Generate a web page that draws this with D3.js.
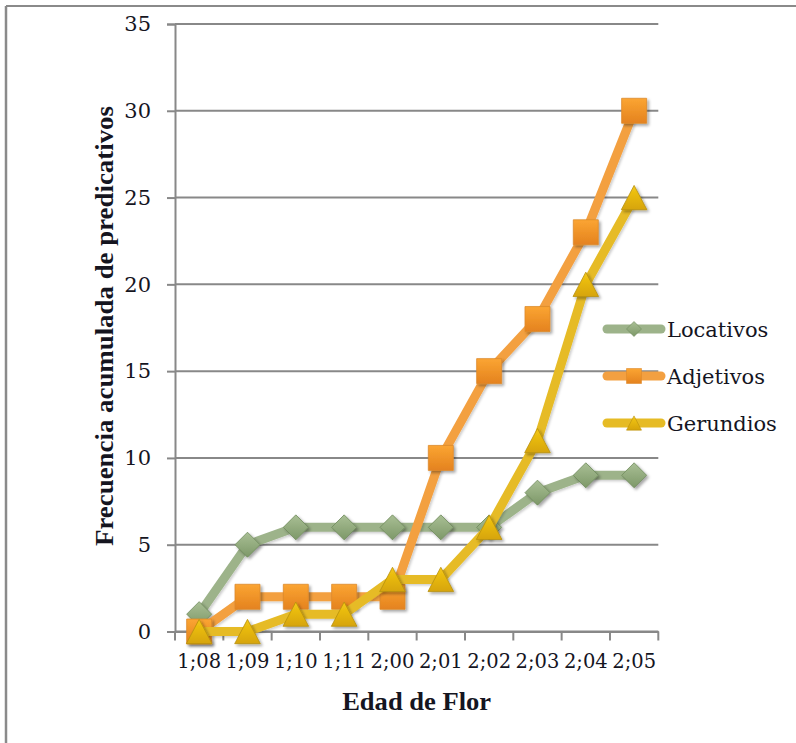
<!DOCTYPE html>
<html>
<head>
<meta charset="utf-8">
<script src="https://cdn.jsdelivr.net/npm/d3@7/dist/d3.min.js"></script>
<style>
  html, body { margin: 0; padding: 0; background: #fff; }
  svg { display: block; }
  text { fill: #15151f; }
  .bold { font-family: "Liberation Serif", "DejaVu Serif", serif; }
  .reg { font-family: "DejaVu Serif", serif; }
</style>
</head>
<body>
<svg id="chart" width="796" height="743"></svg>
<script>
// ---- data ----
const categories = ["1;08", "1;09", "1;10", "1;11", "2;00", "2;01", "2;02", "2;03", "2;04", "2;05"];
const locativos = [1, 5, 6, 6, 6, 6, 6, 8, 9, 9];
const adjetivos = [0, 2, 2, 2, 2, 10, 15, 18, 23, 30];
const gerundios = [0, 0, 1, 1, 3, 3, 6, 11, 20, 25];
const seriesNames = ["Locativos", "Adjetivos", "Gerundios"];
const yTicks = [0, 5, 10, 15, 20, 25, 30, 35];
const xTitle = "Edad de Flor";
const yTitle = "Frecuencia acumulada de predicativos";

const series = [
  { name: seriesNames[0], values: locativos, shape: "diamond", line: "#9db38a", top: "#a9bf95", bottom: "#7d9868", stroke: "#6f8a5c" },
  { name: seriesNames[1], values: adjetivos, shape: "square", line: "#f3a041", top: "#fba532", bottom: "#e4821f", stroke: "#dd8a2c" },
  { name: seriesNames[2], values: gerundios, shape: "triangle", line: "#e6bb25", top: "#f4c814", bottom: "#d6a40a", stroke: "#b8900c" }
];

const svg = d3.select("#chart");
const defs = svg.append("defs");

// drop shadow
const f = defs.append("filter").attr("id", "shadow").attr("x", "-50%").attr("y", "-50%").attr("width", "200%").attr("height", "200%");
f.append("feDropShadow").attr("dx", 2).attr("dy", 2).attr("stdDeviation", 1.6).attr("flood-color", "#000").attr("flood-opacity", 0.35);
const fl = defs.append("filter").attr("id", "lshadow").attr("x", "-10%").attr("y", "-10%").attr("width", "120%").attr("height", "120%");
fl.append("feDropShadow").attr("dx", 1.5).attr("dy", 1.5).attr("stdDeviation", 1.2).attr("flood-color", "#000").attr("flood-opacity", 0.2);

series.forEach((s, i) => {
  const g = defs.append("linearGradient").attr("id", "grad" + i).attr("x1", 0).attr("y1", 0).attr("x2", 0).attr("y2", 1);
  g.append("stop").attr("offset", "0%").attr("stop-color", s.top);
  g.append("stop").attr("offset", "100%").attr("stop-color", s.bottom);
});

// frame
svg.append("line").attr("x1", 6).attr("y1", 6).attr("x2", 796).attr("y2", 6).attr("stroke", "#8a8a8a").attr("stroke-width", 2);
svg.append("line").attr("x1", 6).attr("y1", 6).attr("x2", 6).attr("y2", 743).attr("stroke", "#8a8a8a").attr("stroke-width", 2.5);

// scales
const plotLeft = 175, plotRight = 658.3, plotTop = 24, plotBottom = 631.5;
const x = d3.scaleBand().domain(categories).range([plotLeft, plotRight]).padding(0);
const y = d3.scaleLinear().domain([0, 35]).range([plotBottom, plotTop]);

const gridColor = "#888888";

// gridlines
svg.append("g").selectAll("line").data(yTicks).join("line")
  .attr("x1", plotLeft).attr("x2", plotRight)
  .attr("y1", d => y(d)).attr("y2", d => y(d))
  .attr("stroke", gridColor).attr("stroke-width", 2);

// y axis
const yAxis = d3.axisLeft(y).tickValues(yTicks).tickSize(8).tickPadding(16);
const yg = svg.append("g").attr("transform", `translate(${plotLeft},0)`).call(yAxis).attr("font-family", null);
yg.select(".domain").attr("stroke", gridColor).attr("stroke-width", 2);
yg.selectAll(".tick line").attr("stroke", gridColor).attr("stroke-width", 2);
yg.selectAll(".tick text").attr("class", "reg").attr("font-size", 21).attr("fill", "#15151f");

// x axis
const xAxis = d3.axisBottom(x).tickSize(0).tickPadding(23);
const xg = svg.append("g").attr("transform", `translate(0,${plotBottom})`).call(xAxis).attr("font-family", null);
xg.select(".domain").attr("stroke", gridColor).attr("stroke-width", 2);
xg.selectAll(".tick text").attr("class", "reg").attr("font-size", 19.5).attr("fill", "#15151f");
// boundary ticks
const bounds = categories.map(c => x(c)).concat([x(categories[categories.length - 1]) + x.bandwidth()]);
svg.append("g").selectAll("line").data(bounds).join("line")
  .attr("x1", d => d).attr("x2", d => d)
  .attr("y1", plotBottom).attr("y2", plotBottom + 9)
  .attr("stroke", gridColor).attr("stroke-width", 2);

// titles
svg.append("text").attr("class", "bold").attr("x", (plotLeft + plotRight) / 2).attr("y", 710)
  .attr("text-anchor", "middle").attr("font-size", 26).attr("font-weight", "bold")
  .attr("textLength", 149).attr("lengthAdjust", "spacingAndGlyphs").text(xTitle);
svg.append("text").attr("class", "bold").attr("transform", "translate(113,326) rotate(-90)")
  .attr("text-anchor", "middle").attr("font-size", 26).attr("font-weight", "bold")
  .attr("textLength", 440).attr("lengthAdjust", "spacingAndGlyphs").text(yTitle);

// marker shapes
function shapePath(shape, r) {
  if (shape === "diamond") return `M0,${-r}L${r},0L0,${r}L${-r},0Z`;
  if (shape === "square") return `M${-r},${-r}H${r}V${r}H${-r}Z`;
  const h = r * 1.9;
  return `M0,${-h / 2}L${r},${h / 2}L${-r},${h / 2}Z`;
}
const markerR = { diamond: 12.5, square: 12.5, triangle: 12.8 };

const line = d3.line().x((d, i) => x(categories[i]) + x.bandwidth() / 2).y(d => y(d));

series.forEach((s, si) => {
  const g = svg.append("g");
  g.append("path").datum(s.values).attr("d", line)
    .attr("fill", "none").attr("stroke", s.line).attr("stroke-width", 9)
    .attr("stroke-linejoin", "round").attr("stroke-linecap", "round")
    .attr("filter", "url(#lshadow)");
  g.selectAll("path.mk").data(s.values).join("path").attr("class", "mk")
    .attr("transform", (d, i) => `translate(${x(categories[i]) + x.bandwidth() / 2},${y(d)})`)
    .attr("d", shapePath(s.shape, markerR[s.shape]))
    .attr("fill", `url(#grad${si})`).attr("stroke", s.stroke).attr("stroke-width", 0.8)
    .attr("filter", "url(#shadow)");
});

// legend
const legendY = [329, 376, 423];
series.forEach((s, si) => {
  const g = svg.append("g").attr("transform", `translate(0,${legendY[si]})`);
  g.append("line").attr("x1", 607).attr("x2", 661).attr("y1", 0).attr("y2", 0)
    .attr("stroke", s.line).attr("stroke-width", 9).attr("stroke-linecap", "round");
  g.append("path").attr("transform", "translate(634,0)")
    .attr("d", shapePath(s.shape, 7.5))
    .attr("fill", `url(#grad${si})`).attr("stroke", s.stroke).attr("stroke-width", 0.6);
  g.append("text").attr("class", "reg").attr("x", 667).attr("y", 8).attr("font-size", 21).text(s.name);
});
</script>
</body>
</html>
